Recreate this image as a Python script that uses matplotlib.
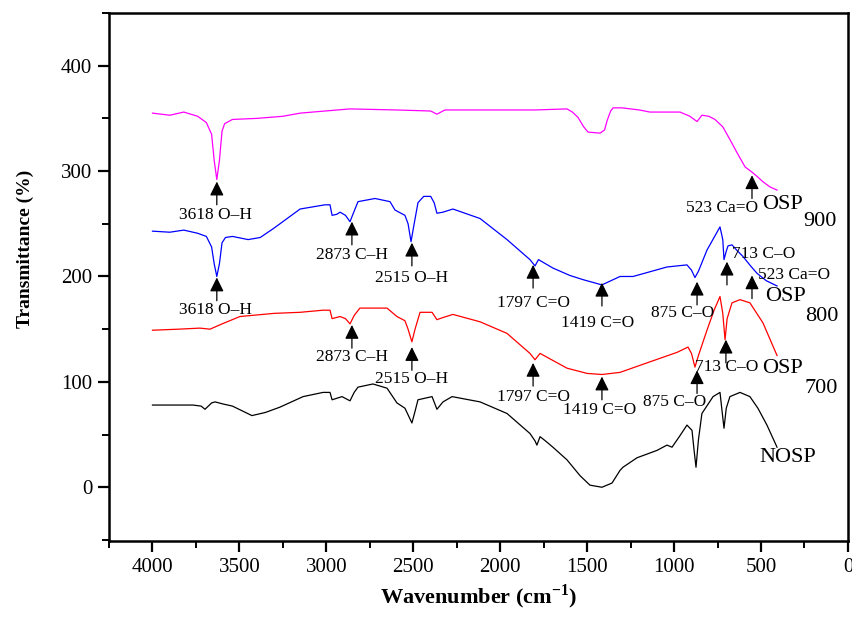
import matplotlib
matplotlib.use('Agg')
import matplotlib.pyplot as plt
from matplotlib.ticker import MultipleLocator

plt.rcParams['font.family'] = ['Liberation Serif', 'DejaVu Serif']
plt.rcParams['mathtext.fontset'] = 'custom'
plt.rcParams['mathtext.rm'] = 'Liberation Serif'
plt.rcParams['mathtext.bf'] = 'Liberation Serif:bold'

# spectra (wavenumber, transmittance)
wn_900 = [4000, 3900, 3820, 3740, 3690, 3660, 3645, 3630, 3615, 3600, 3585, 3540,
          3400, 3250, 3150, 2864, 2600, 2400, 2364, 2318, 2100, 1800, 1616, 1585,
          1553, 1520, 1495, 1426, 1400, 1385, 1365, 1351, 1300, 1200, 1139, 966, 909,
          868, 840, 800, 765, 720, 679, 640, 592, 552, 523, 490, 449, 408]
t_900 = [355, 353, 356, 352, 346, 335, 310, 292, 310, 338, 345, 349,
         350, 352, 355, 359, 358, 357, 354, 358, 358, 358, 359, 356,
         351, 342, 337, 336, 339, 348, 357, 360, 360, 358, 356, 356, 352,
         347, 353, 352, 349, 342, 330, 318, 304, 299, 295, 290, 285, 282]

wn_800 = [4000, 3900, 3820, 3740, 3690, 3660, 3645, 3630, 3615, 3600, 3580, 3540,
          3450, 3380, 3300, 3151, 3008, 2979, 2967, 2940, 2921, 2890, 2864, 2840,
          2818, 2720, 2634, 2605, 2548, 2530, 2513, 2495, 2473, 2440, 2400, 2380,
          2364, 2330, 2272, 2116, 1961, 1829, 1800, 1780, 1697, 1600, 1524, 1415,
          1311, 1236, 1041, 926, 900, 880, 860, 811, 760, 736, 720, 713, 700, 690,
          667, 640, 604, 560, 523, 470, 408]
t_800 = [243, 242, 244, 241, 238, 228, 212, 200, 212, 232, 237, 238,
         235, 237, 246, 264, 268, 268, 258, 259, 261, 258, 252, 262,
         271, 274, 271, 263, 258, 250, 233, 250, 270, 276, 276, 270,
         260, 261, 264, 255, 235, 216, 210, 216, 208, 201, 197, 192,
         200, 200, 209, 211, 206, 199, 205, 225, 240, 247, 235, 216, 224, 229,
         230, 225, 219, 210, 203, 196, 191]

wn_700 = [4000, 3850, 3727, 3669, 3600, 3497, 3300, 3151, 3019, 2979, 2967, 2921,
          2890, 2864, 2840, 2807, 2651, 2594, 2548, 2530, 2508, 2490, 2461, 2392,
          2364, 2330, 2272, 2116, 1961, 1829, 1800, 1771, 1616, 1500, 1415, 1311,
          1139, 983, 920, 900, 880, 860, 811, 770, 736, 720, 707, 695, 667, 621,
          564, 489, 408]
t_700 = [149, 150, 151, 150, 155, 162, 165, 166, 168, 168, 160, 162,
         160, 155, 163, 170, 170, 162, 158, 150, 138, 150, 166, 166,
         159, 161, 164, 157, 146, 127, 121, 127, 113, 108, 107, 109,
         119, 128, 133, 127, 114, 125, 149, 168, 181, 165, 140, 160, 175, 178,
         175, 156, 125]

wn_nosp = [4000, 3850, 3767, 3720, 3698, 3660, 3640, 3594, 3540, 3428, 3350, 3267,
           3134, 3019, 2979, 2967, 2910, 2864, 2840, 2818, 2732, 2651, 2594, 2548,
           2508, 2490, 2473, 2392, 2364, 2329, 2277, 2116, 1961, 1829, 1800, 1789,
           1771, 1740, 1697, 1616, 1541, 1484, 1415, 1357, 1311, 1294, 1213, 1098,
           1041, 1012, 966, 926, 897, 885, 874, 860, 840, 776, 736, 724, 713, 700,
           679, 621, 564, 518, 466, 408]
t_nosp = [78, 78, 78, 77, 74, 80, 81, 79, 77, 68, 71, 76,
          86, 90, 90, 83, 86, 82, 90, 95, 98, 94, 80, 75,
          61, 72, 83, 86, 74, 81, 86, 81, 70, 51, 44, 40,
          48, 44, 38, 26, 11, 2, 0, 4, 16, 19, 28, 35,
          40, 38, 49, 59, 54, 35, 19, 45, 70, 86, 90, 72, 56, 75,
          86, 90, 86, 75, 59, 38]

# peak markers: arrow x, arrow tip, label, label x, label y, alignment
marks = [
    (3630, 290, '3618 O–H', 3640, 258, 'center'),
    (552, 296, '523 Ca=O', 725, 265, 'center'),
    (3630, 199, '3618 O–H', 3640, 168, 'center'),
    (2853, 252, '2873 C–H', 2853, 220, 'center'),
    (2508, 232, '2515 O–H', 2508, 199, 'center'),
    (1811, 211, '1797 C=O', 1811, 175, 'center'),
    (1415, 194, '1419 C=O', 1438, 156, 'center'),
    (868, 195, '875 C–O', 949, 165, 'center'),
    (696, 214, '713 C–O', 665, 221, 'left'),
    (552, 201, '523 Ca=O', 518, 201, 'left'),
    (2853, 154, '2873 C–H', 2853, 124, 'center'),
    (2508, 133, '2515 O–H', 2508, 103, 'center'),
    (1811, 118, '1797 C=O', 1811, 86, 'center'),
    (1415, 105, '1419 C=O', 1426, 73, 'center'),
    (868, 111, '875 C–O', 995, 81, 'center'),
    (702, 140, '713 C–O', 696, 114, 'center'),
]

names = [('OSP', 374, 268), ('900', 161, 252),
         ('OSP', 362, 181), ('800', 150, 162),
         ('OSP', 374, 113), ('700', 155, 94),
         ('NOSP', 345, 28)]

fig = plt.figure(figsize=(8.53, 6.19), dpi=100)
ax = fig.add_axes([0.1278, 0.126, 0.8663, 0.853])

ax.plot(wn_nosp, t_nosp, color='black', lw=0.9)
ax.plot(wn_700, t_700, color='red', lw=0.9)
ax.plot(wn_800, t_800, color='blue', lw=0.9)
ax.plot(wn_900, t_900, color='magenta', lw=0.9)

for x, tip, lab, tx, ty, ha in marks:
    ax.annotate('', xy=(x, tip), xytext=(x, tip - 22),
                arrowprops=dict(arrowstyle='-|>,head_length=0.85,head_width=0.42',
                                mutation_scale=10, color='black', lw=0.9,
                                shrinkA=0, shrinkB=0))
    ax.text(tx, ty, lab, fontsize=12.5, ha=ha, va='center')

for lab, tx, ty in names:
    ax.text(tx, ty, lab, fontsize=16, ha='center', va='center')

ax.set_xlim(4250, 0)
ax.set_ylim(-51, 450)
ax.xaxis.set_major_locator(MultipleLocator(500))
ax.xaxis.set_minor_locator(MultipleLocator(250))
ax.yaxis.set_major_locator(MultipleLocator(100))
ax.yaxis.set_minor_locator(MultipleLocator(50))
ax.tick_params(which='major', length=8, width=1.6, labelsize=15, pad=4)
ax.tick_params(which='minor', length=5, width=1.4)
for sp in ax.spines.values():
    sp.set_linewidth(1.8)

ax.set_xlabel('Wavenumber (cm$^{\\mathbf{-1}}$)', fontsize=16, fontweight='bold')
ax.set_ylabel('Transmittance (%)', fontsize=14, fontweight='bold')
ax.yaxis.set_label_coords(-0.102, 0.553)

fig.savefig('out.png', dpi=100)
